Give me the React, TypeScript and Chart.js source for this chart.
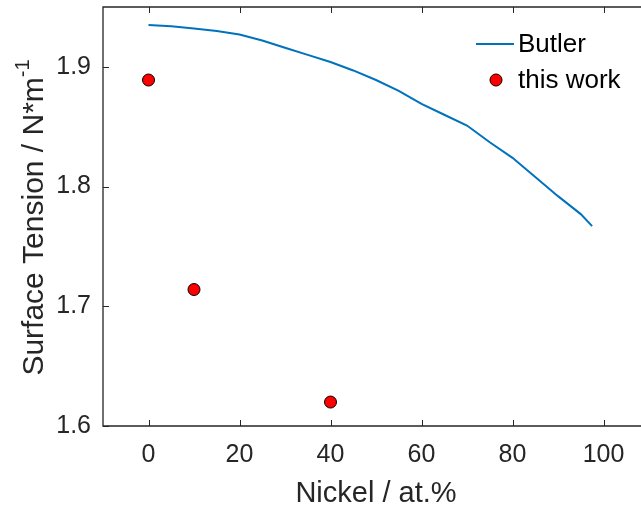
import React, { useEffect, useRef } from "react";
import { Chart, registerables } from "chart.js";

Chart.register(...registerables);

const butlerX = [0, 5, 10, 15, 20, 25, 30, 35, 40, 45, 50, 55, 60, 65, 70, 75, 80, 85, 90, 95, 97.5];
const butlerY = [1.935, 1.934, 1.932, 1.930, 1.927, 1.922, 1.916, 1.910, 1.904, 1.897, 1.889, 1.880, 1.869, 1.860, 1.851, 1.837, 1.824, 1.808, 1.792, 1.777, 1.767];
const workX = [0, 10, 40];
const workY = [1.889, 1.714, 1.62];
const xTicks = [0, 20, 40, 60, 80, 100];
const yTicks = [1.6, 1.7, 1.8, 1.9];
const xRange = [-10, 110];
const yRange = [1.6, 1.95];
const seriesNames = ["Butler", "this work"];
const xTitle = "Nickel / at.%";
const yTitleMain = "Surface Tension / N*m";
const yTitleSup = "-1";

const FONT = "'Liberation Sans', Arial, sans-serif";
const AXIS_COLOR = "#262626";

const zeroPad = (s: any) => {
  s.paddingTop = 0;
  s.paddingBottom = 0;
  s.paddingLeft = 0;
  s.paddingRight = 0;
};

const decorPlugin = {
  id: "decor",
  afterDraw(chart: any) {
    const ctx = chart.ctx as CanvasRenderingContext2D;
    const { left, top, right, bottom } = chart.chartArea;
    const xs = chart.scales.x;
    const ys = chart.scales.y;
    ctx.save();
    ctx.strokeStyle = AXIS_COLOR;
    ctx.lineWidth = 1.3;
    ctx.beginPath();
    ctx.moveTo(right, top);
    ctx.lineTo(left, top);
    ctx.lineTo(left, bottom);
    ctx.lineTo(right, bottom);
    ctx.stroke();
    ctx.lineWidth = 1;
    ctx.beginPath();
    const tl = 6;
    xTicks.forEach((v) => {
      const p = Math.round(xs.getPixelForValue(v)) + 0.5;
      ctx.moveTo(p, bottom);
      ctx.lineTo(p, bottom - tl);
      ctx.moveTo(p, top);
      ctx.lineTo(p, top + tl);
    });
    yTicks.forEach((v) => {
      const p = Math.round(ys.getPixelForValue(v)) + 0.5;
      ctx.moveTo(left, p);
      ctx.lineTo(left + tl, p);
    });
    ctx.stroke();

    ctx.fillStyle = AXIS_COLOR;
    ctx.font = `29px ${FONT}`;
    ctx.textAlign = "center";
    ctx.textBaseline = "alphabetic";
    ctx.fillText(xTitle, (left + right) / 2, 502);

    const cy = (top + bottom) / 2 + 1;
    ctx.save();
    ctx.translate(43, cy);
    ctx.rotate(-Math.PI / 2);
    ctx.font = `30px ${FONT}`;
    const wMain = ctx.measureText(yTitleMain).width;
    ctx.font = `20px ${FONT}`;
    const wSup = ctx.measureText(yTitleSup).width;
    const total = wMain + wSup;
    ctx.textAlign = "left";
    ctx.font = `30px ${FONT}`;
    ctx.fillText(yTitleMain, -total / 2, 0);
    ctx.font = `20px ${FONT}`;
    ctx.fillText(yTitleSup, -total / 2 + wMain, -14);
    ctx.restore();

    const ds0 = chart.data.datasets[0];
    const ds1 = chart.data.datasets[1];
    ctx.strokeStyle = ds0.borderColor;
    ctx.lineWidth = ds0.borderWidth;
    ctx.beginPath();
    ctx.moveTo(476, 44);
    ctx.lineTo(514, 44);
    ctx.stroke();
    ctx.beginPath();
    ctx.arc(496, 80, ds1.pointRadius, 0, Math.PI * 2);
    ctx.fillStyle = ds1.backgroundColor;
    ctx.fill();
    ctx.strokeStyle = ds1.borderColor;
    ctx.lineWidth = ds1.borderWidth;
    ctx.stroke();
    ctx.fillStyle = "#000";
    ctx.font = `26px ${FONT}`;
    ctx.textAlign = "left";
    ctx.textBaseline = "middle";
    ctx.fillText(seriesNames[0], 518, 45);
    ctx.fillText(seriesNames[1], 518, 81);
    ctx.restore();
  },
};

export default function App() {
  const ref = useRef<HTMLCanvasElement | null>(null);
  useEffect(() => {
    if (!ref.current) return;
    const chart = new Chart(ref.current, {
      type: "scatter",
      data: {
        datasets: [
          {
            label: seriesNames[0],
            data: butlerX.map((x, i) => ({ x, y: butlerY[i] })),
            showLine: true,
            borderColor: "#0072BD",
            borderWidth: 2,
            pointRadius: 0,
            tension: 0,
          } as any,
          {
            label: seriesNames[1],
            data: workX.map((x, i) => ({ x, y: workY[i] })),
            showLine: false,
            backgroundColor: "#FF0000",
            borderColor: "#000000",
            borderWidth: 1,
            pointRadius: 6,
          } as any,
        ],
      },
      options: {
        animation: false,
        responsive: false,
        layout: { padding: { top: 5, right: 71, left: 0, bottom: 0 } },
        plugins: { legend: { display: false }, tooltip: { enabled: false } },
        scales: {
          x: {
            type: "linear",
            min: xRange[0],
            max: xRange[1],
            grid: { display: false, drawTicks: false },
            border: { display: false },
            afterBuildTicks: (s: any) => {
              s.ticks = xTicks.map((v) => ({ value: v }));
            },
            afterFit: (s: any) => {
              s.height = 83;
              zeroPad(s);
            },
            ticks: {
              color: AXIS_COLOR,
              font: { family: FONT, size: 25 },
              padding: 14,
              maxRotation: 0,
              callback: (v: any) => String(v),
            },
          },
          y: {
            type: "linear",
            min: yRange[0],
            max: yRange[1],
            grid: { display: false, drawTicks: false },
            border: { display: false },
            afterBuildTicks: (s: any) => {
              s.ticks = yTicks.map((v) => ({ value: v }));
            },
            afterFit: (s: any) => {
              s.width = 103;
              zeroPad(s);
            },
            ticks: {
              color: AXIS_COLOR,
              font: { family: FONT, size: 25 },
              padding: 12,
              callback: (v: any) => Number(v).toFixed(1),
            },
          },
        },
      },
      plugins: [decorPlugin],
    });
    return () => chart.destroy();
  }, []);
  return (
    <div
      style={{
        position: "fixed",
        left: 0,
        top: 0,
        width: 641,
        height: 509,
        overflow: "hidden",
        background: "#fff",
      }}
    >
      <canvas ref={ref} width={720} height={509} style={{ display: "block" }} />
    </div>
  );
}
